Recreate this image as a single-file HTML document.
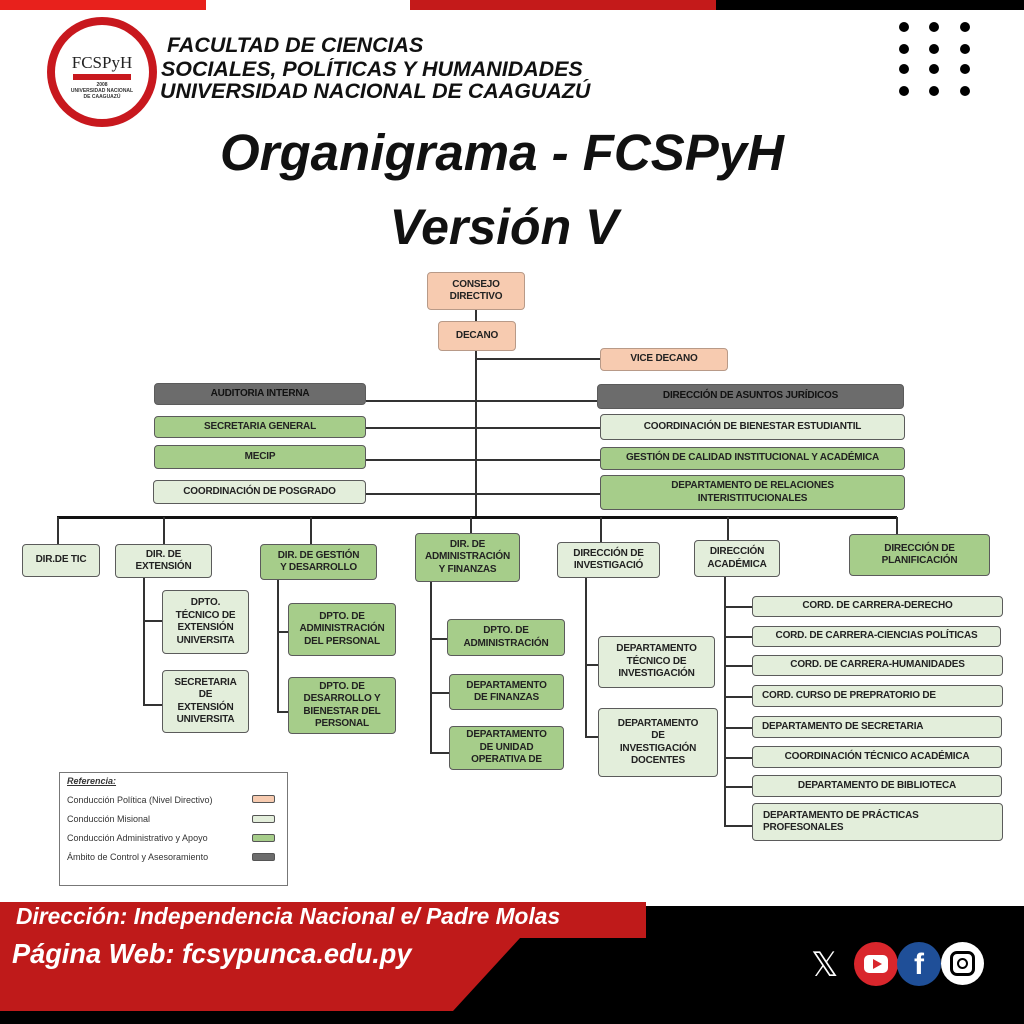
<!DOCTYPE html>
<html><head><meta charset="utf-8"><style>
*{margin:0;padding:0;box-sizing:border-box}
body{width:1024px;height:1024px;position:relative;background:#fff;overflow:hidden;font-family:"Liberation Sans",Arial,sans-serif}
.a{position:absolute}
.b{position:absolute;display:flex;align-items:center;justify-content:center;text-align:center;font-weight:bold;font-size:10px;line-height:12.5px;color:#222;border:1.5px solid #5b5b5b;border-radius:4px;letter-spacing:-0.2px}
.p{background:#f7cbb0;border-color:#b89a88}
.l{background:#e3eedb}
.g{background:#a6cd8a}
.d{background:#6c6c6c;color:#111}
.h{position:absolute;background:#333;height:1.5px}
.v{position:absolute;background:#333;width:1.5px}
.dot{position:absolute;width:10px;height:10px;border-radius:50%;background:#000}
.hd{position:absolute;font-weight:bold;font-style:italic;color:#111;font-size:21px;line-height:22px;transform:scaleX(1.02);transform-origin:left}
</style></head><body>
<!-- top bars -->
<div class="a" style="left:0;top:0;width:206px;height:10px;background:#e8211c"></div>
<div class="a" style="left:410px;top:0;width:306px;height:10px;background:#c41a1a"></div>
<div class="a" style="left:716px;top:0;width:308px;height:10px;background:#000"></div>
<!-- logo -->
<div class="a" style="left:47px;top:17px;width:110px;height:110px;border-radius:50%;background:#c8181e"></div>
<div class="a" style="left:53px;top:23px;width:98px;height:98px;border-radius:50%;background:#fff;border:2px solid #c8181e"></div>
<div class="a" style="left:60px;top:53px;width:84px;text-align:center;font-family:'Liberation Serif',serif;font-size:17px;color:#222">FCSPyH</div>
<div class="a" style="left:73px;top:74px;width:58px;height:6px;background:#c8181e"></div>
<div class="a" style="left:60px;top:82px;width:84px;text-align:center;font-size:5px;color:#333;font-weight:bold">2008<br>UNIVERSIDAD NACIONAL<br>DE CAAGUAZÚ</div>
<div class="hd" style="left:167px;top:35px">FACULTAD DE CIENCIAS</div>
<div class="hd" style="left:161px;top:59px">SOCIALES, POLÍTICAS Y HUMANIDADES</div>
<div class="hd" style="left:160px;top:81px">UNIVERSIDAD NACIONAL DE CAAGUAZÚ</div>
<!-- dots -->
<div class="dot" style="left:899px;top:22px"></div><div class="dot" style="left:929px;top:22px"></div><div class="dot" style="left:960px;top:22px"></div>
<div class="dot" style="left:899px;top:44px"></div><div class="dot" style="left:929px;top:44px"></div><div class="dot" style="left:960px;top:44px"></div>
<div class="dot" style="left:899px;top:64px"></div><div class="dot" style="left:929px;top:64px"></div><div class="dot" style="left:960px;top:64px"></div>
<div class="dot" style="left:899px;top:86px"></div><div class="dot" style="left:929px;top:86px"></div><div class="dot" style="left:960px;top:86px"></div>
<!-- title -->
<div class="a" style="left:0;top:123px;width:1004px;text-align:center;font-weight:bold;font-style:italic;font-size:51px;line-height:60px;color:#111">Organigrama - FCSPyH</div>
<div class="a" style="left:0;top:197px;width:1008px;text-align:center;font-weight:bold;font-style:italic;font-size:50px;line-height:60px;color:#111">Versión V</div>

<!-- connectors -->
<div class="v" style="left:475px;top:310px;height:12px"></div>
<div class="v" style="left:475px;top:351px;height:166px"></div>
<div class="h" style="left:476px;top:358px;width:124px"></div>
<div class="h" style="left:366px;top:400px;width:232px"></div>
<div class="h" style="left:366px;top:427px;width:234px"></div>
<div class="h" style="left:366px;top:459px;width:234px"></div>
<div class="h" style="left:366px;top:493px;width:234px"></div>
<div class="a" style="left:57px;top:516px;width:840px;height:3px;background:#111"></div>
<div class="v" style="left:57px;top:517px;height:28px"></div>
<div class="v" style="left:163px;top:517px;height:28px"></div>
<div class="v" style="left:310px;top:517px;height:28px"></div>
<div class="v" style="left:470px;top:517px;height:17px"></div>
<div class="v" style="left:600px;top:517px;height:26px"></div>
<div class="v" style="left:727px;top:517px;height:24px"></div>
<div class="v" style="left:896px;top:517px;height:18px"></div>
<!-- ext -->
<div class="v" style="left:143px;top:578px;height:127px"></div>
<div class="h" style="left:143px;top:620px;width:19px"></div>
<div class="h" style="left:143px;top:704px;width:19px"></div>
<!-- gestion -->
<div class="v" style="left:277px;top:580px;height:132px"></div>
<div class="h" style="left:277px;top:631px;width:11px"></div>
<div class="h" style="left:277px;top:711px;width:11px"></div>
<!-- admin -->
<div class="v" style="left:430px;top:582px;height:171px"></div>
<div class="h" style="left:430px;top:638px;width:17px"></div>
<div class="h" style="left:430px;top:692px;width:19px"></div>
<div class="h" style="left:430px;top:752px;width:19px"></div>
<!-- inv -->
<div class="v" style="left:585px;top:578px;height:158px"></div>
<div class="h" style="left:585px;top:664px;width:13px"></div>
<div class="h" style="left:585px;top:736px;width:13px"></div>
<!-- acad -->
<div class="v" style="left:724px;top:577px;height:249px"></div>
<div class="h" style="left:724px;top:606px;width:28px"></div>
<div class="h" style="left:724px;top:636px;width:28px"></div>
<div class="h" style="left:724px;top:665px;width:28px"></div>
<div class="h" style="left:724px;top:696px;width:28px"></div>
<div class="h" style="left:724px;top:727px;width:28px"></div>
<div class="h" style="left:724px;top:757px;width:28px"></div>
<div class="h" style="left:724px;top:786px;width:28px"></div>
<div class="h" style="left:724px;top:825px;width:28px"></div>

<!-- boxes -->
<div class="b p" style="left:427px;top:272px;width:98px;height:38px">CONSEJO<br>DIRECTIVO</div>
<div class="b p" style="left:438px;top:321px;width:78px;height:30px">DECANO</div>
<div class="b p" style="left:600px;top:348px;width:128px;height:23px">VICE DECANO</div>
<div class="b d" style="left:154px;top:383px;width:212px;height:22px">AUDITORIA INTERNA</div>
<div class="b d" style="left:597px;top:384px;width:307px;height:25px">DIRECCIÓN DE ASUNTOS JURÍDICOS</div>
<div class="b g" style="left:154px;top:416px;width:212px;height:22px">SECRETARIA GENERAL</div>
<div class="b l" style="left:600px;top:414px;width:305px;height:26px">COORDINACIÓN DE BIENESTAR ESTUDIANTIL</div>
<div class="b g" style="left:154px;top:445px;width:212px;height:24px">MECIP</div>
<div class="b g" style="left:600px;top:447px;width:305px;height:23px">GESTIÓN DE CALIDAD INSTITUCIONAL Y ACADÉMICA</div>
<div class="b l" style="left:153px;top:480px;width:213px;height:24px">COORDINACIÓN DE POSGRADO</div>
<div class="b g" style="left:600px;top:475px;width:305px;height:35px">DEPARTAMENTO DE RELACIONES<br>INTERISTITUCIONALES</div>

<div class="b l" style="left:22px;top:544px;width:78px;height:33px">DIR.DE TIC</div>
<div class="b l" style="left:115px;top:544px;width:97px;height:34px">DIR. DE<br>EXTENSIÓN</div>
<div class="b g" style="left:260px;top:544px;width:117px;height:36px">DIR. DE GESTIÓN<br>Y DESARROLLO</div>
<div class="b g" style="left:415px;top:533px;width:105px;height:49px">DIR. DE<br>ADMINISTRACIÓN<br>Y FINANZAS</div>
<div class="b l" style="left:557px;top:542px;width:103px;height:36px">DIRECCIÓN DE<br>INVESTIGACIÓ</div>
<div class="b l" style="left:694px;top:540px;width:86px;height:37px">DIRECCIÓN<br>ACADÉMICA</div>
<div class="b g" style="left:849px;top:534px;width:141px;height:42px">DIRECCIÓN DE<br>PLANIFICACIÓN</div>

<div class="b l" style="left:162px;top:590px;width:87px;height:64px">DPTO.<br>TÉCNICO DE<br>EXTENSIÓN<br>UNIVERSITA</div>
<div class="b l" style="left:162px;top:670px;width:87px;height:63px">SECRETARIA<br>DE<br>EXTENSIÓN<br>UNIVERSITA</div>
<div class="b g" style="left:288px;top:603px;width:108px;height:53px">DPTO. DE<br>ADMINISTRACIÓN<br>DEL PERSONAL</div>
<div class="b g" style="left:288px;top:677px;width:108px;height:57px">DPTO. DE<br>DESARROLLO Y<br>BIENESTAR DEL<br>PERSONAL</div>
<div class="b g" style="left:447px;top:619px;width:118px;height:37px">DPTO. DE<br>ADMINISTRACIÓN</div>
<div class="b g" style="left:449px;top:674px;width:115px;height:36px">DEPARTAMENTO<br>DE FINANZAS</div>
<div class="b g" style="left:449px;top:726px;width:115px;height:44px">DEPARTAMENTO<br>DE UNIDAD<br>OPERATIVA DE</div>
<div class="b l" style="left:598px;top:636px;width:117px;height:52px">DEPARTAMENTO<br>TÉCNICO DE<br>INVESTIGACIÓN</div>
<div class="b l" style="left:598px;top:708px;width:120px;height:69px">DEPARTAMENTO<br>DE<br>INVESTIGACIÓN<br>DOCENTES</div>

<div class="b l" style="left:752px;top:596px;width:251px;height:21px">CORD. DE CARRERA-DERECHO</div>
<div class="b l" style="left:752px;top:626px;width:249px;height:21px">CORD. DE CARRERA-CIENCIAS POLÍTICAS</div>
<div class="b l" style="left:752px;top:655px;width:251px;height:21px">CORD. DE CARRERA-HUMANIDADES</div>
<div class="b l" style="left:752px;top:685px;width:251px;height:22px;justify-content:flex-start;padding-left:9px">CORD. CURSO DE PREPRATORIO DE</div>
<div class="b l" style="left:752px;top:716px;width:250px;height:22px;justify-content:flex-start;padding-left:9px">DEPARTAMENTO DE SECRETARIA</div>
<div class="b l" style="left:752px;top:746px;width:250px;height:22px">COORDINACIÓN TÉCNICO ACADÉMICA</div>
<div class="b l" style="left:752px;top:775px;width:250px;height:22px">DEPARTAMENTO DE BIBLIOTECA</div>
<div class="b l" style="left:752px;top:803px;width:251px;height:38px;justify-content:flex-start;text-align:left;padding-left:10px">DEPARTAMENTO DE PRÁCTICAS<br>PROFESONALES</div>

<!-- legend -->
<div class="a" style="left:59px;top:772px;width:229px;height:114px;border:1px solid #777;background:#fff"></div>
<div class="a" style="left:67px;top:776px;font-size:9px;font-style:italic;font-weight:bold;text-decoration:underline;color:#333">Referencia:</div>
<div class="a" style="left:67px;top:795px;font-size:9px;color:#333">Conducción Política (Nivel Directivo)</div>
<div class="a" style="left:67px;top:814px;font-size:9px;color:#333">Conducción Misional</div>
<div class="a" style="left:67px;top:833px;font-size:9px;color:#333">Conducción Administrativo y Apoyo</div>
<div class="a" style="left:67px;top:852px;font-size:9px;color:#333">Ámbito de Control y Asesoramiento</div>
<div class="a" style="left:252px;top:795px;width:23px;height:8px;border:1px solid #555;border-radius:2px;background:#f7cbb0"></div>
<div class="a" style="left:252px;top:815px;width:23px;height:8px;border:1px solid #555;border-radius:2px;background:#e3eedb"></div>
<div class="a" style="left:252px;top:834px;width:23px;height:8px;border:1px solid #555;border-radius:2px;background:#a6cd8a"></div>
<div class="a" style="left:252px;top:853px;width:23px;height:8px;border:1px solid #555;border-radius:2px;background:#6c6c6c"></div>

<!-- footer -->
<div class="a" style="left:0;top:906px;width:1024px;height:118px;background:#000"></div>
<svg class="a" style="left:0;top:0" width="1024" height="1024"><polygon points="0,902 646,902 646,938 520,938 453,1011 0,1011" fill="#bf1a1a"/></svg>
<div class="a" style="left:16px;top:903px;font-weight:bold;font-style:italic;font-size:23px;color:#fff;transform:scaleX(0.99);transform-origin:left">Dirección: Independencia Nacional e/ Padre Molas</div>
<div class="a" style="left:12px;top:938px;font-weight:bold;font-style:italic;font-size:28px;color:#fff;transform:scaleX(0.97);transform-origin:left">Página Web: fcsypunca.edu.py</div>
<div class="a" style="left:811px;top:945px;font-size:34px;line-height:40px;color:#fff;font-family:'DejaVu Sans',sans-serif">𝕏</div>
<div class="a" style="left:854px;top:942px;width:44px;height:44px;border-radius:50%;background:#d9262c"></div>
<div class="a" style="left:864px;top:955px;width:24px;height:18px;border-radius:5px;background:#fff"></div>
<div class="a" style="left:873px;top:959px;width:0;height:0;border-left:9px solid #d9262c;border-top:5px solid transparent;border-bottom:5px solid transparent"></div>
<div class="a" style="left:897px;top:942px;width:44px;height:44px;border-radius:50%;background:#1f4f98;color:#fff;font-weight:bold;font-size:30px;text-align:center;line-height:46px">f</div>
<div class="a" style="left:941px;top:942px;width:43px;height:43px;border-radius:50%;background:#fff"></div>
<div class="a" style="left:950px;top:951px;width:25px;height:25px;border-radius:7px;border:3px solid #000"></div>
<div class="a" style="left:957px;top:958px;width:11px;height:11px;border-radius:50%;border:2.5px solid #000"></div>
</body></html>
